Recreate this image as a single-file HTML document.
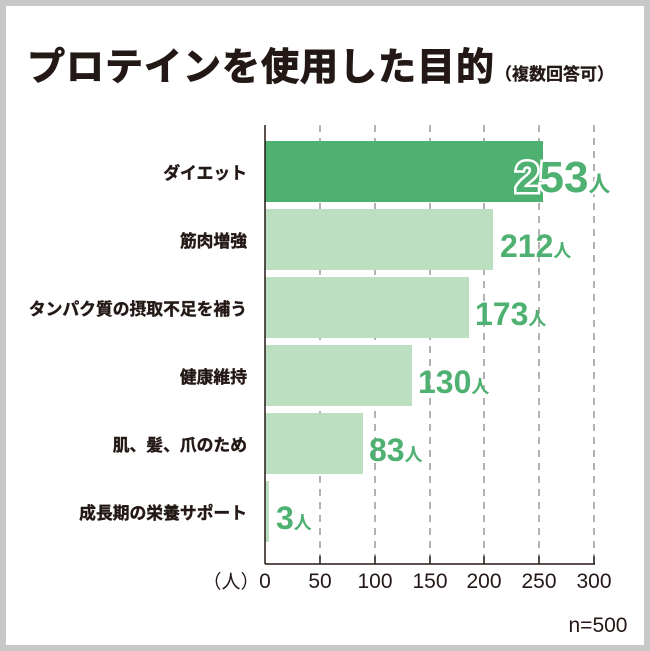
<!DOCTYPE html>
<html><head><meta charset="utf-8"><style>
body{margin:0;width:650px;height:651px;background:#fff;font-family:"Liberation Sans","Noto Sans CJK JP",sans-serif;}
.f{position:absolute;left:0;top:0;width:638px;height:639px;border:6px solid #c8c8c8;background:#fff;}
.t{position:absolute;font-weight:bold;color:#231815;white-space:nowrap}
</style></head><body>
<div class="f"></div>
<div class="t" style="left:27px;top:36px;font-size:38px;letter-spacing:1px;-webkit-text-stroke:1px #231815">プロテインを使用した目的<span style="font-size:17px;letter-spacing:0;-webkit-text-stroke:0.3px #231815">（複数回答可）</span></div>
<svg width="650" height="651" style="position:absolute;left:0;top:0" font-family="Liberation Sans, Noto Sans CJK JP, sans-serif">
<g stroke="#888" stroke-width="1.3" stroke-dasharray="7,6">
<line x1="320" y1="125" x2="320" y2="564"/><line x1="375" y1="125" x2="375" y2="564"/>
<line x1="430" y1="125" x2="430" y2="564"/><line x1="484" y1="125" x2="484" y2="564"/>
<line x1="539" y1="125" x2="539" y2="564"/><line x1="594" y1="125" x2="594" y2="564"/>
</g>
<rect x="265" y="141" width="278" height="61" fill="#4fb171"/>
<rect x="265" y="209" width="228" height="61" fill="#bcdfc2"/>
<rect x="265" y="277" width="204" height="61" fill="#bcdfc2"/>
<rect x="265" y="345" width="147" height="61" fill="#bcdfc2"/>
<rect x="265" y="413" width="98" height="61" fill="#bcdfc2"/>
<rect x="265" y="481" width="4" height="61" fill="#bcdfc2"/>
<g stroke="#231815" stroke-width="1.5"><line x1="265" y1="125" x2="265" y2="564"/><line x1="265" y1="564" x2="595" y2="564"/>
<line x1="320" y1="556" x2="320" y2="564"/><line x1="375" y1="556" x2="375" y2="564"/><line x1="430" y1="556" x2="430" y2="564"/><line x1="484" y1="556" x2="484" y2="564"/><line x1="539" y1="556" x2="539" y2="564"/><line x1="594" y1="556" x2="594" y2="564"/></g>
<g font-weight="bold" font-size="16.8" fill="#231815" text-anchor="end" stroke="#231815" stroke-width="0.4">
<text x="247" y="179">ダイエット</text><text x="247" y="247">筋肉増強</text><text x="247" y="315">タンパク質の摂取不足を補う</text>
<text x="247" y="383">健康維持</text><text x="247" y="451">肌、髪、爪のため</text><text x="247" y="519">成長期の栄養サポート</text></g>
<g font-weight="bold" fill="#4fb171">
<text x="515" y="192" font-size="44" stroke="#fff" stroke-width="5" paint-order="stroke">253<tspan font-size="22">人</tspan></text>
<text x="500" y="257" font-size="32">212<tspan font-size="18">人</tspan></text>
<text x="475" y="325" font-size="32">173<tspan font-size="18">人</tspan></text>
<text x="418" y="393" font-size="32">130<tspan font-size="18">人</tspan></text>
<text x="369" y="461" font-size="32">83<tspan font-size="18">人</tspan></text>
<text x="276" y="529" font-size="32">3<tspan font-size="18">人</tspan></text>
</g>
<g font-size="21" fill="#231815" text-anchor="middle">
<text x="265" y="588">0</text><text x="320" y="588">50</text><text x="375" y="588">100</text><text x="430" y="588">150</text><text x="484" y="588">200</text><text x="539" y="588">250</text><text x="594" y="588">300</text>
<text x="231" y="588" font-size="19">（人）</text>
<text x="598" y="632" font-size="21">n=500</text></g>
</svg>
</body></html>
